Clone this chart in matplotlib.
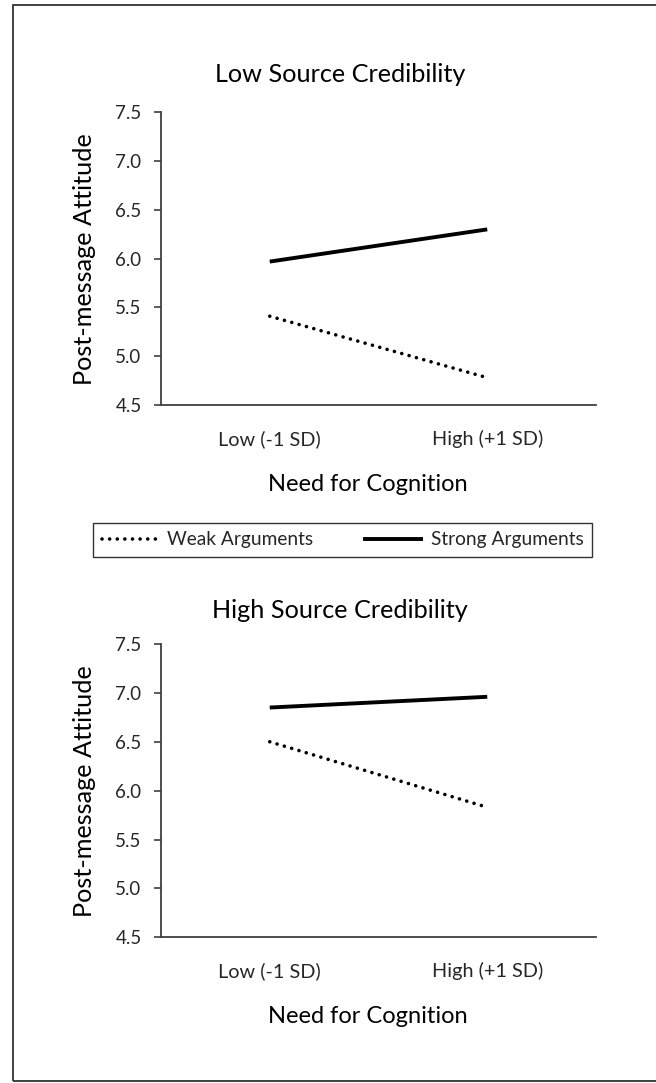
"""Interaction plots: post-message attitude by need for cognition."""

import matplotlib
matplotlib.use('Agg')
import matplotlib.pyplot as plt
from matplotlib.patches import Rectangle
from matplotlib.lines import Line2D

plt.rcParams['font.family'] = ['Lato', 'DejaVu Sans']

# Data
categories = ['Low (-1 SD)', 'High (+1 SD)']
panel_titles = ['Low Source Credibility', 'High Source Credibility']
weak_low_cred = [5.41, 4.78]
strong_low_cred = [5.97, 6.30]
weak_high_cred = [6.50, 5.83]
strong_high_cred = [6.85, 6.96]
y_ticks = [4.5, 5.0, 5.5, 6.0, 6.5, 7.0, 7.5]

AXIS_COLOR = '#404040'
TEXT_COLOR = '#262626'
W, H = 656, 1083

DOTTED = (0, (0.01, 2.1))

fig = plt.figure(figsize=(W / 100, H / 100), dpi=100)

# Axes placement (figure fraction)
ax_top = fig.add_axes([161 / W, 1 - 405 / H, 435 / W, 292.7 / H])
ax_bot = fig.add_axes([161 / W, 1 - 937.3 / H, 435 / W, 293.3 / H])
panels = [
    (ax_top, weak_low_cred, strong_low_cred, 75),
    (ax_bot, weak_high_cred, strong_high_cred, 610),
]

x = list(range(len(categories)))
for (ax, weak, strong, title_y), title in zip(panels, panel_titles):
    ax.plot(x, weak, color='black', linestyle=DOTTED, linewidth=2.6,
            dash_capstyle='round')
    ax.plot(x, strong, color='black', linestyle='-', linewidth=2.8,
            solid_capstyle='butt')
    ax.set_xlim(-0.5, 1.5)
    ax.set_ylim(4.5, 7.5)
    ax.set_yticks(y_ticks)
    ax.set_yticklabels([f'{v:.1f}' for v in y_ticks], fontsize=13.5,
                       color=TEXT_COLOR)
    ax.set_xticks(x)
    ax.set_xticklabels(categories, fontsize=14.3, color=TEXT_COLOR)
    ax.tick_params(axis='x', length=0, pad=18)
    ax.tick_params(axis='y', length=5, width=1.2, color=AXIS_COLOR, pad=9)
    for side in ['top', 'right']:
        ax.spines[side].set_visible(False)
    for side in ['left', 'bottom']:
        ax.spines[side].set_color(AXIS_COLOR)
        ax.spines[side].set_linewidth(1.3)
    fig.text(340 / W, 1 - title_y / H, title, fontsize=18.2, color='black',
             ha='center', va='center')
    ax.set_ylabel('Post-message Attitude', fontsize=18.2, color='black')
    ax.yaxis.set_label_coords(-0.15, 0.5)
    ax.set_xlabel('Need for Cognition', fontsize=17, color='black')
    ax.xaxis.set_label_coords(0.475, -0.235)

# Shared legend between the panels
handles = [
    Line2D([], [], color='black', linestyle=DOTTED, linewidth=2.6,
           dash_capstyle='round'),
    Line2D([], [], color='black', linestyle='-', linewidth=2.8),
]
leg = fig.legend(handles, ['Weak Arguments', 'Strong Arguments'],
                 loc='center', bbox_to_anchor=(93 / W, 1 - 559 / H, 499 / W, 38 / H),
                 mode='expand', ncol=2, frameon=True, fancybox=False,
                 edgecolor='black', fontsize=13.8, handlelength=2.9,
                 handletextpad=0.5, columnspacing=2.5, borderpad=0.45,
                 borderaxespad=0)
leg.get_frame().set_linewidth(1.0)
for t in leg.get_texts():
    t.set_color(TEXT_COLOR)

# Outer border of the figure panel
border = Rectangle((12.5 / W, 2 / H), 1.2, 1 - 7 / H,
                   transform=fig.transFigure, fill=False,
                   edgecolor='#333333', linewidth=1.3, clip_on=False)
fig.add_artist(border)

fig.savefig('out.png', dpi=100)
